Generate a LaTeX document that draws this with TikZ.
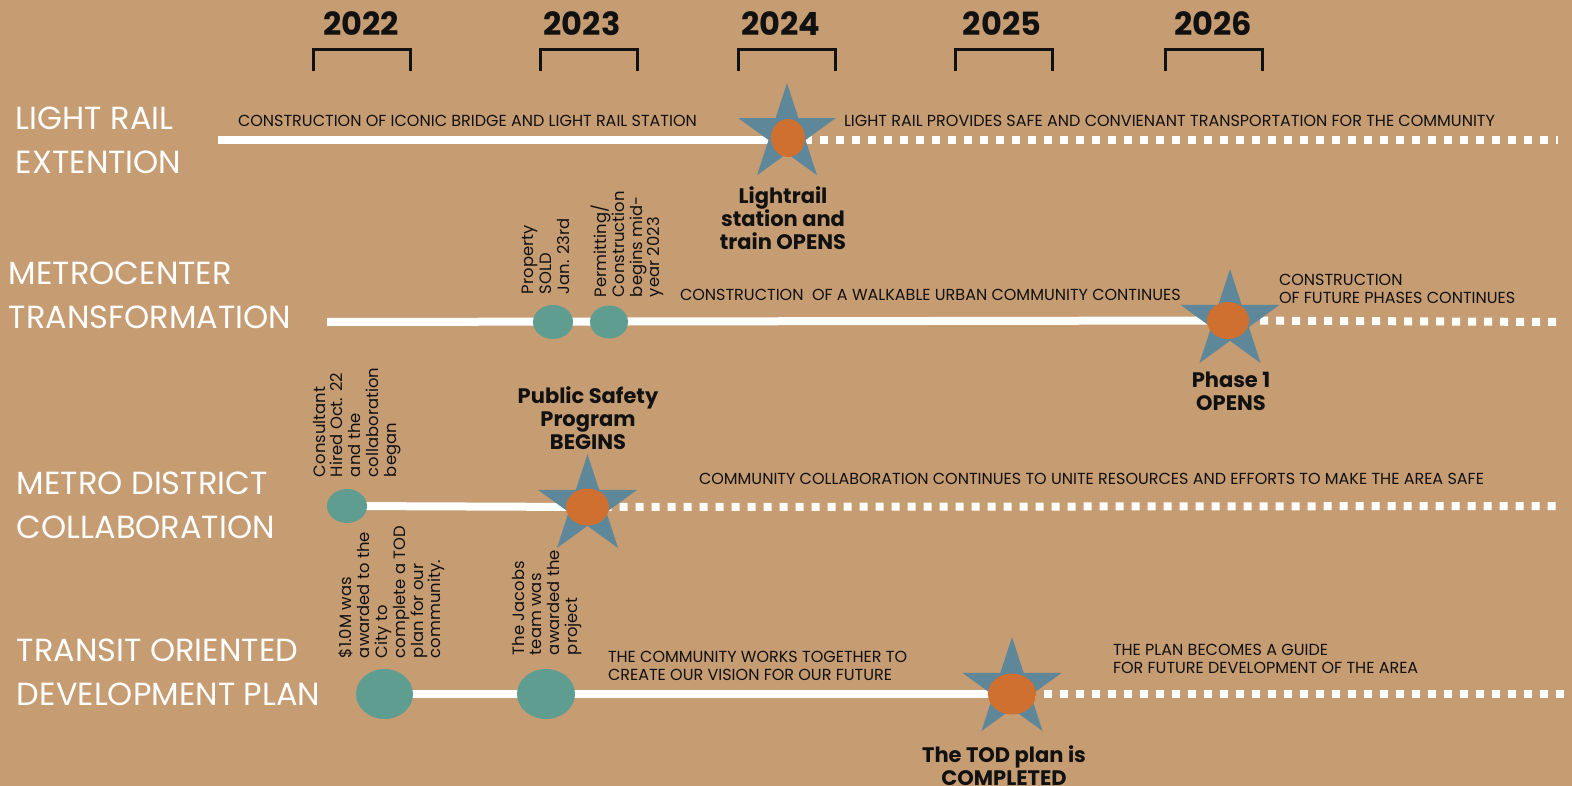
\documentclass[tikz,border=0pt]{standalone}
\usepackage{fontspec}
\setmainfont{Poppins}
\usetikzlibrary{shapes.geometric}
\pgfdeclarelayer{bg}
\pgfsetlayers{bg,main}
\definecolor{bgc}{RGB}{198,156,115}
\definecolor{starblue}{RGB}{94,135,154}
\definecolor{dotorange}{RGB}{208,112,48}
\definecolor{teal}{RGB}{95,157,145}
\definecolor{ink}{RGB}{17,17,17}
\begin{document}
\begin{tikzpicture}[x=0.5pt,y=-0.5pt,
  every node/.style={inner sep=0pt, outer sep=0pt},
  yearlbl/.style={anchor=north, text=ink, font=\fontsize{16}{18}\selectfont\bfseries},
  bracket/.style={draw=ink, line width=1.5pt},
  rowlbl/.style={anchor=north west, align=left, text=white, font=\fontsize{16}{22}\selectfont},
  smalllbl/.style={anchor=north west, align=left, text=ink, font=\fontsize{8}{9}\selectfont},
  boldlbl/.style={anchor=north, align=center, text=ink, font=\fontsize{10.5}{11.4}\selectfont\bfseries},
  vertlbl/.style={anchor=north west, rotate=90, align=left, text=ink, font=\fontsize{8.2}{8.9}\selectfont},
  starmark/.style={star, star points=5, star point ratio=2.62, fill=starblue, minimum size=#1},
  oval/.style={ellipse, fill=dotorange},
  tealdot/.style={ellipse, fill=teal},
  solidline/.style={draw=white, line width=4pt},
  dotline/.style={draw=white, line width=4pt, dash pattern=on 4pt off 4pt}
]
\begin{pgfonlayer}{bg}
\fill[bgc] (0,0) rectangle (1572,786);
\end{pgfonlayer}
\useasboundingbox (0,0) rectangle (1572,786);

% years
\node[yearlbl] (y22) at (361,12) {2022};
\node[yearlbl] (y23) at (582,12) {2023};
\node[yearlbl] (y24) at (781,12) {2024};
\node[yearlbl] (y25) at (1002,12) {2025};
\node[yearlbl] (y26) at (1213,12) {2026};
\draw[bracket] (313,71) -- (313,50) -- (410,50) -- (410,71);
\draw[bracket] (540,71) -- (540,50) -- (637,50) -- (637,71);
\draw[bracket] (738,71) -- (738,50) -- (835,50) -- (835,71);
\draw[bracket] (955,71) -- (955,50) -- (1052,50) -- (1052,71);
\draw[bracket] (1165,71) -- (1165,50) -- (1262,50) -- (1262,71);

% row labels
\node[rowlbl] (r1) at (16,107) {LIGHT RAIL\\EXTENTION};
\node[rowlbl] (r2) at (9,262) {METROCENTER\\TRANSFORMATION};
\node[rowlbl] (r3) at (17,472) {METRO DISTRICT\\COLLABORATION};
\node[rowlbl] (r4) at (17,639) {TRANSIT ORIENTED\\DEVELOPMENT PLAN};

% markers
\node[starmark=51pt] (s1) at (787,134) {};
\node[oval, minimum width=17pt, minimum height=19pt] (e1) at (788,138) {};
\node[starmark=52pt] (s2) at (1230,321) {};
\node[oval, minimum width=21pt, minimum height=18.5pt] (e2) at (1228,320.5) {};
\node[starmark=52pt] (s3) at (587.5,506) {};
\node[oval, minimum width=21.5pt, minimum height=18.5pt] (e3) at (587.5,507) {};
\node[starmark=52pt] (s4) at (1012,689) {};
\node[oval, minimum width=24pt, minimum height=20.5pt] (e4) at (1012,694) {};

\node[tealdot, minimum width=20pt, minimum height=17pt] (c2a) at (553,322) {};
\node[tealdot, minimum width=19pt, minimum height=16.5pt] (c2b) at (609,322) {};
\node[tealdot, minimum width=20pt, minimum height=17pt] (c3) at (347,506) {};
\node[tealdot, minimum width=28.5pt, minimum height=25pt] (c4a) at (384.5,694) {};
\node[tealdot, minimum width=29pt, minimum height=25pt] (c4b) at (546,694) {};

% free ends
\coordinate (l1s) at (218,140);
\coordinate (l1e) at (1558,140);
\coordinate (l2s) at (327,322);
\coordinate (l2e) at (1560,322);
\coordinate (l3e) at (1558,506);
\coordinate (l4e) at (1572,694);

\begin{pgfonlayer}{bg}
\draw[solidline] (l1s) -- (l1s -| e1.center);
\draw[dotline] (l1s -| e1.center) -- (l1e);
\draw[solidline] (l2s) -- (e2.center);
\draw[dotline] (e2.center) -- (l2e);
\draw[solidline] (c3.center) -- (e3.center);
\draw[dotline] (e3.center) -- (l3e);
\draw[solidline] (c4a.center) -- (e4.center);
\draw[dotline] (e4.center) -- (l4e);
\end{pgfonlayer}

% small labels
\node[smalllbl] (t1a) at (238,115) {CONSTRUCTION OF ICONIC BRIDGE AND LIGHT RAIL STATION};
\node[smalllbl] (t1b) at (844,115) {LIGHT RAIL PROVIDES SAFE AND CONVIENANT TRANSPORTATION FOR THE COMMUNITY};
\node[smalllbl] (t2a) at (680,289) {CONSTRUCTION\ \ OF A WALKABLE URBAN COMMUNITY CONTINUES};
\node[smalllbl] (t2b) at (1279,274) {CONSTRUCTION\\OF FUTURE PHASES CONTINUES};
\node[smalllbl] (t3a) at (699,473) {COMMUNITY COLLABORATION CONTINUES TO UNITE RESOURCES AND EFFORTS TO MAKE THE AREA SAFE};
\node[smalllbl] (t4a) at (608,651) {THE COMMUNITY WORKS TOGETHER TO\\CREATE OUR VISION FOR OUR FUTURE};
\node[smalllbl] (t4b) at (1113,644) {THE PLAN BECOMES A GUIDE\\FOR FUTURE DEVELOPMENT OF THE AREA};

% bold labels
\node[boldlbl] (b1) at (783,187) {Lightrail\\station and\\train OPENS};
\node[boldlbl] (b2) at (1231,372) {Phase 1\\OPENS};
\node[boldlbl] (b3) at (588,387) {Public Safety\\Program\\BEGINS};
\node[boldlbl] (b4) at (1004,746) {The TOD plan is\\COMPLETED};

% vertical labels
\node[vertlbl] (v1) at (522,294) {Property\\SOLD\\Jan. 23rd};
\node[vertlbl] (v2) at (591,297) {Permitting/\\Construction\\begins mid-\\year 2023};
\node[vertlbl] (v3) at (313,477) {Consultant\\Hired Oct. 22\\and the\\collaboration\\began};
\node[vertlbl] (v4) at (339,658) {\$1.0M was\\awarded to the\\City to\\complete a TOD\\plan for our\\community.};
\node[vertlbl] (v5) at (512,655) {The Jacobs\\team was\\awarded the\\project};
\end{tikzpicture}
\end{document}
